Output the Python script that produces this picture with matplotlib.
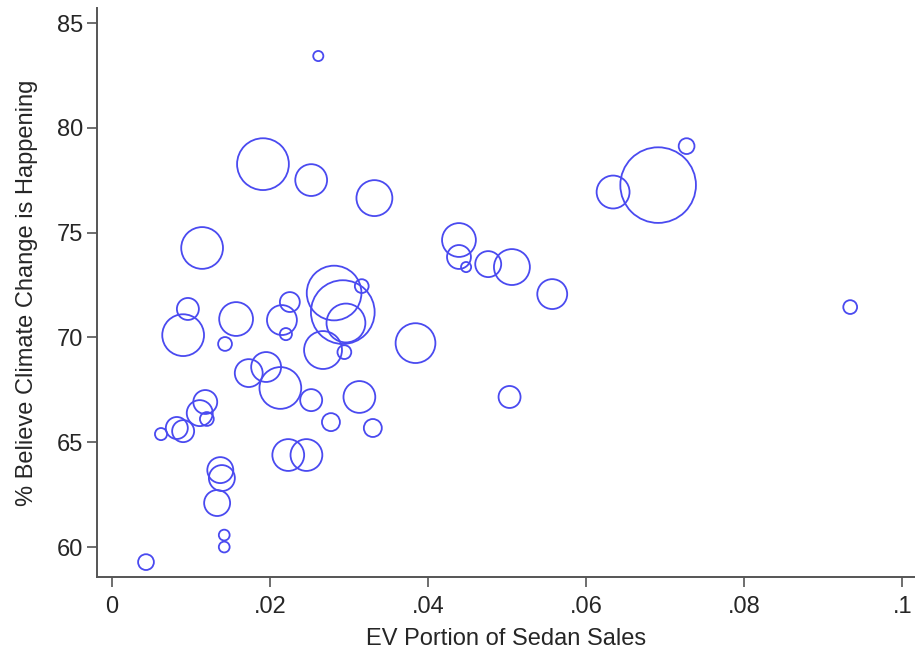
import matplotlib
matplotlib.use("Agg")
import matplotlib.pyplot as plt
import numpy as np

# EV share of sedan sales, share believing climate change is happening,
# and population (millions) used as bubble weight -- one entry per state
ev_share = [
    0.0043, 0.0062, 0.0082, 0.0090, 0.0090, 0.0096, 0.0114, 0.0118, 0.0111,
    0.0120, 0.0143, 0.0157, 0.0137, 0.0139, 0.0133, 0.0142, 0.0142, 0.0173,
    0.0191, 0.0195, 0.0213, 0.0215, 0.0225, 0.0220, 0.0223, 0.0246, 0.0252,
    0.0252, 0.0261, 0.0267, 0.0277, 0.0281, 0.0292, 0.0296, 0.0294, 0.0316,
    0.0313, 0.0330, 0.0332, 0.0384, 0.0439, 0.0439, 0.0448, 0.0476, 0.0506,
    0.0503, 0.0557, 0.0634, 0.0691, 0.0727, 0.0934,
]
believe = [
    59.28, 65.39, 65.68, 65.53, 70.11, 71.36, 74.27, 66.92, 66.39,
    66.11, 69.69, 70.88, 63.67, 63.29, 62.10, 60.57, 60.00, 68.30,
    78.27, 68.59, 67.59, 70.83, 71.69, 70.16, 64.39, 64.39, 67.01,
    77.51, 83.43, 69.40, 65.96, 72.12, 71.21, 70.69, 69.30, 72.45,
    67.16, 65.68, 76.65, 69.73, 74.65, 73.84, 73.36, 73.50, 73.36,
    67.16, 72.07, 76.94, 77.27, 79.13, 71.45,
]
population = [
    1.7, 1.0, 3.3, 3.3, 11.9, 3.3, 11.9, 3.9, 4.6,
    1.3, 1.3, 7.8, 4.6, 4.6, 4.6, 0.8, 0.8, 5.3,
    18.3, 6.1, 11.9, 6.1, 2.7, 1.0, 6.9, 6.9, 3.3,
    6.9, 0.7, 9.8, 2.2, 20.4, 27.7, 10.3, 1.3, 1.3,
    6.9, 2.2, 8.8, 10.8, 7.8, 3.9, 0.7, 4.6, 8.8,
    3.3, 6.1, 7.4, 39.0, 1.7, 1.3,
]

xticks = [0, 0.02, 0.04, 0.06, 0.08, 0.1]
xticklabels = ["0", ".02", ".04", ".06", ".08", ".1"]
yticks = [60, 65, 70, 75, 80, 85]

FONT = ["Liberation Sans", "Arial", "DejaVu Sans"]
TEXT_COLOR = "#262626"
AXIS_COLOR = "#555555"
MARKER_COLOR = "#4a4af0"
SIZE_SCALE = 76.0  # pt^2 per million people

plt.rcParams["font.family"] = FONT

fig = plt.figure(figsize=(9.15, 6.53), dpi=100)
ax = fig.add_axes([0.106, 0.1164, 0.894, 0.8713])

sizes = np.asarray(population) * SIZE_SCALE
ax.scatter(
    ev_share,
    believe,
    s=sizes,
    facecolors="none",
    edgecolors=MARKER_COLOR,
    linewidths=1.3,
    zorder=3,
)

ax.set_xlim(-0.0019, 0.1016)
ax.set_ylim(58.57, 85.72)

ax.set_xticks(xticks)
ax.set_xticklabels(xticklabels)
ax.set_yticks(yticks)

for side in ["top", "right"]:
    ax.spines[side].set_visible(False)
for side in ["left", "bottom"]:
    ax.spines[side].set_color(AXIS_COLOR)
    ax.spines[side].set_linewidth(1.4)

ax.tick_params(
    axis="both",
    colors=AXIS_COLOR,
    labelcolor=TEXT_COLOR,
    length=7,
    width=1.2,
    labelsize=17,
)
ax.tick_params(axis="x", pad=7)
ax.tick_params(axis="y", pad=3)

ax.set_xlabel("EV Portion of Sedan Sales", fontsize=17, color=TEXT_COLOR)
ax.set_ylabel("% Believe Climate Change is Happening", fontsize=17, color=TEXT_COLOR)
ax.xaxis.set_label_coords(0.5, -0.089)
ax.yaxis.set_label_coords(-0.072, 0.5)

fig.savefig("out.png", dpi=100)
